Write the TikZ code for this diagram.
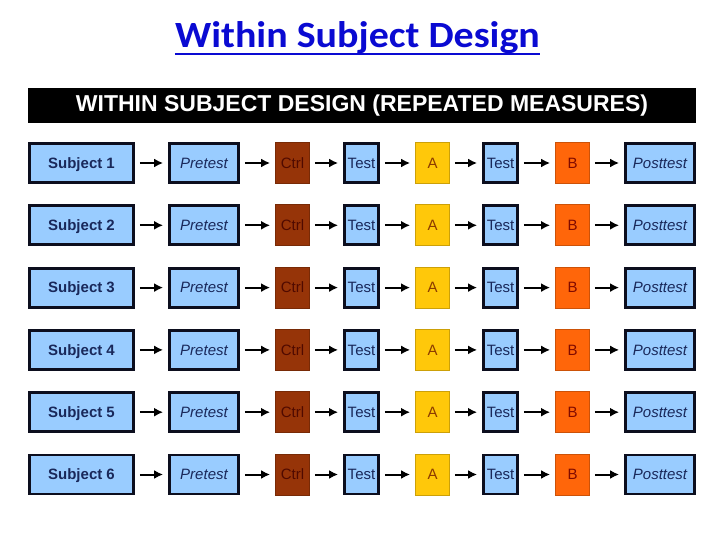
\documentclass[tikz,border=0pt]{standalone}
\usepackage{fontspec}
\setmainfont{Liberation Sans}
\newfontfamily\titlefont{Carlito}
\usetikzlibrary{arrows.meta}

\definecolor{headblue}{RGB}{10,10,210}
\definecolor{boxblue}{RGB}{153,204,255}
\definecolor{boxline}{RGB}{12,14,30}
\definecolor{boxtext}{RGB}{25,40,90}
\definecolor{ctrlfill}{RGB}{150,52,8}
\definecolor{ctrltext}{RGB}{80,10,0}
\definecolor{afill}{RGB}{255,200,10}
\definecolor{atext}{RGB}{140,60,0}
\definecolor{bfill}{RGB}{255,102,10}
\definecolor{btext}{RGB}{128,10,0}

\tikzset{
  stage/.style={draw=boxline, line width=2.8pt, fill=boxblue, text=boxtext,
    minimum height=39pt, inner sep=0pt, text height=10.7pt, text depth=0pt,
    font=\fontsize{15}{15}\selectfont},
  subj/.style={stage, minimum width=104pt, font=\fontsize{15}{15}\selectfont\bfseries},
  phase/.style={stage, minimum width=69pt, font=\fontsize{15}{15}\selectfont\itshape},
  probe/.style={stage, minimum width=34pt},
  cond/.style={draw=#1!80!black, line width=0.8pt, fill=#1, minimum width=34pt,
    minimum height=41pt, inner sep=0pt, text height=10.7pt, text depth=0pt,
    font=\fontsize{15}{15}\selectfont},
  flow/.style={-{Latex[length=9pt,width=9pt]}, line width=2pt, shorten <=5pt, shorten >=5pt}
}

\begin{document}
\begin{tikzpicture}[x=1pt,y=-1pt]
    \useasboundingbox[fill=white] (0,0) rectangle (720,540);
    % heading
    \node[font=\titlefont\fontsize{37}{37}\selectfont\bfseries, text=headblue, inner sep=0pt, anchor=base] (title) at (357.5,48) {\scalebox{1.08}[1]{Within Subject Design}};
    \draw[headblue, line width=2.6pt] ([yshift=-6pt]title.base west) -- ([yshift=-6pt]title.base east);
    \node[fill=black, text=white, minimum width=668pt, minimum height=35pt, inner sep=0pt, font=\fontsize{23}{23}\selectfont\bfseries] (banner) at (362,105.5) {WITHIN SUBJECT DESIGN (REPEATED MEASURES)};
    % one row per subject
    \foreach \r in {1,...,6} {
        \pgfmathsetmacro\y{163+62.3*(\r-1)}
        \node[subj] (subj\r) at (81.5,\y) {Subject \r};
        \node[phase] (pre\r) at (204,\y) {Pretest};
        \node[cond=ctrlfill, text=ctrltext] (ctrl\r) at (292.5,\y) {Ctrl};
        \node[probe] (testa\r) at (361.5,\y) {Test};
        \node[cond=afill, text=atext] (a\r) at (432.5,\y) {A};
        \node[probe] (testb\r) at (500.5,\y) {Test};
        \node[cond=bfill, text=btext] (b\r) at (572.5,\y) {B};
        \node[phase] (post\r) at (660,\y) {Posttest};
        \draw[flow] (subj\r) -- (pre\r);
        \draw[flow] (pre\r) -- (ctrl\r);
        \draw[flow] (ctrl\r) -- (testa\r);
        \draw[flow] (testa\r) -- (a\r);
        \draw[flow] (a\r) -- (testb\r);
        \draw[flow] (testb\r) -- (b\r);
        \draw[flow] (b\r) -- (post\r);
    }
\end{tikzpicture}
\end{document}
